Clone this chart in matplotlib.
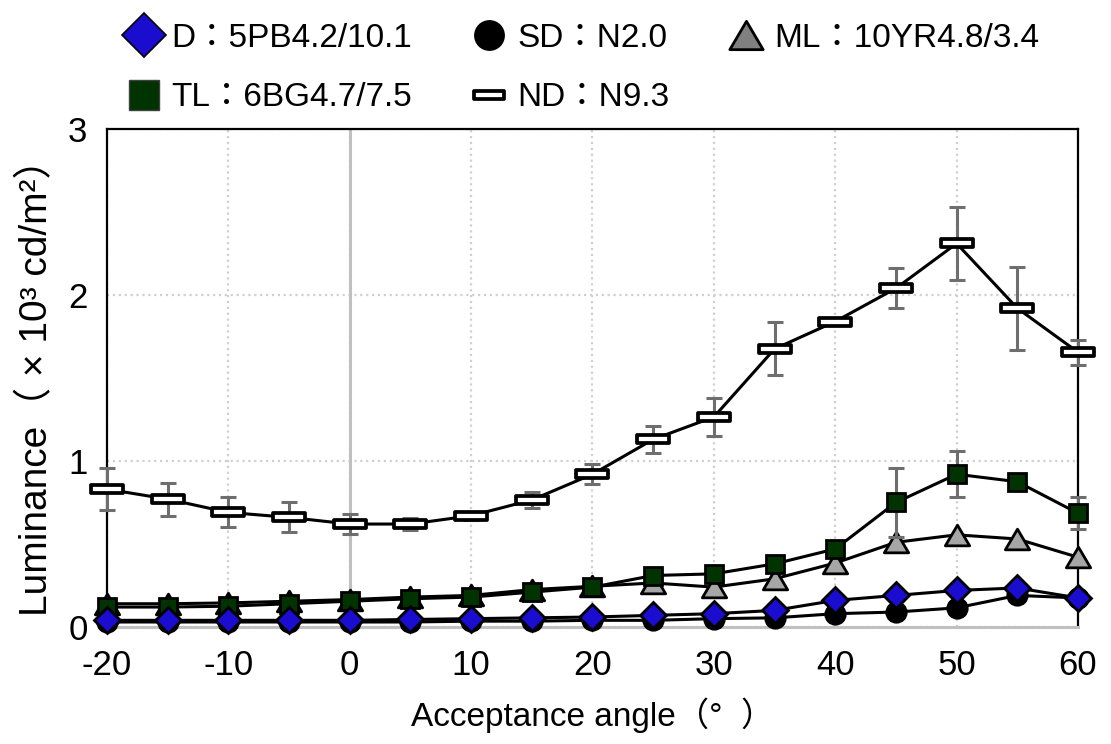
import matplotlib
matplotlib.use("Agg")
import matplotlib.pyplot as plt
from matplotlib.lines import Line2D
from matplotlib.path import Path
import numpy as np

plt.rcParams['font.family'] = ['Liberation Sans', 'Noto Sans CJK JP']
plt.rcParams['axes.unicode_minus'] = False

# acceptance angle (deg)
angles = [-20, -15, -10, -5, 0, 5, 10, 15, 20, 25, 30, 35, 40, 45, 50, 55, 60]

# luminance (x10^3 cd/m2)
lum_D = [0.04, 0.04, 0.04, 0.04, 0.04, 0.045, 0.05, 0.055, 0.06, 0.07, 0.08, 0.10, 0.16, 0.19, 0.22, 0.235, 0.175]
lum_SD = [0.03, 0.03, 0.03, 0.03, 0.03, 0.03, 0.035, 0.035, 0.04, 0.04, 0.05, 0.055, 0.08, 0.09, 0.115, 0.19, 0.175]
lum_ML = [0.14, 0.14, 0.145, 0.155, 0.165, 0.18, 0.19, 0.225, 0.245, 0.265, 0.24, 0.29, 0.385, 0.51, 0.555, 0.53, 0.42]
lum_TL = [0.12, 0.12, 0.125, 0.14, 0.155, 0.17, 0.18, 0.21, 0.24, 0.31, 0.32, 0.38, 0.47, 0.75, 0.92, 0.875, 0.685]
lum_ND = [0.83, 0.77, 0.69, 0.66, 0.62, 0.62, 0.67, 0.765, 0.92, 1.13, 1.265, 1.675, 1.84, 2.04, 2.31, 1.92, 1.655]

# error bars (std)
err_TL = [0.01, 0.01, 0.01, 0.01, 0.01, 0.01, 0.01, 0.01, 0.01, 0.02, 0.02, 0.02, 0.02, 0.21, 0.14, 0.02, 0.095]
err_ND = [0.125, 0.10, 0.09, 0.09, 0.06, 0.035, 0.025, 0.05, 0.06, 0.08, 0.115, 0.16, 0.01, 0.12, 0.22, 0.25, 0.075]

labels = {
    'D': 'D：5PB4.2/10.1',
    'SD': 'SD：N2.0',
    'ML': 'ML：10YR4.8/3.4',
    'TL': 'TL：6BG4.7/7.5',
    'ND': 'ND：N9.3',
}

# flat rectangle marker for ND, wide triangle for ML
rect = Path([(-1, -0.26), (1, -0.26), (1, 0.26), (-1, 0.26), (-1, -0.26)],
            [Path.MOVETO, Path.LINETO, Path.LINETO, Path.LINETO, Path.CLOSEPOLY])
tri = Path([(0, 0.85), (-1, -0.85), (1, -0.85), (0, 0.85)],
           [Path.MOVETO, Path.LINETO, Path.LINETO, Path.CLOSEPOLY])

fig = plt.figure(figsize=(11.11, 7.44), dpi=100)
ax = fig.add_axes([0.0963, 0.1573, 0.874, 0.6694])

lw = 2.2
mew = 2.0
ax.plot(angles, lum_ML, color='black', lw=lw, marker=tri, ms=17.5, mfc='#a6a6a6', mec='black', mew=mew, zorder=3, clip_on=False)
ax.errorbar(angles, lum_TL, yerr=err_TL, fmt='none', ecolor='#6e6e6e', elinewidth=2.2, capsize=5.5, capthick=2.2, zorder=3.5, clip_on=False)
ax.plot(angles, lum_TL, color='black', lw=lw, marker='s', ms=13.5, mfc='#003300', mec='black', mew=mew, zorder=4, clip_on=False)
ax.plot(angles, lum_SD, color='black', lw=lw, marker='o', ms=14, mfc='black', mec='black', mew=mew, zorder=5, clip_on=False)
ax.plot(angles, lum_D, color='black', lw=lw, marker='D', ms=13, mfc='#1a0dd0', mec='black', mew=mew, zorder=6, clip_on=False)
ax.errorbar(angles, lum_ND, yerr=err_ND, fmt='none', ecolor='#6e6e6e', elinewidth=2.2, capsize=5.5, capthick=2.2, zorder=6.5, clip_on=False)
ax.plot(angles, lum_ND, color='black', lw=lw, marker=rect, ms=23, mfc='white', mec='black', mew=2.7, zorder=7, clip_on=False)

ax.set_xlim(-20, 60)
ax.set_ylim(0, 3)
ax.set_xticks(range(-20, 61, 10))
ax.set_yticks([0, 1, 2, 3])
ax.grid(True, linestyle=':', color='#d0d0d0', lw=1.6, zorder=0)
ax.set_axisbelow(True)
ax.axvline(0, color='#c0c0c0', lw=2.2, zorder=1)

for side in ['left', 'top', 'right']:
    ax.spines[side].set_color('black')
    ax.spines[side].set_linewidth(1.6)
ax.spines['bottom'].set_color('#c0c0c0')
ax.spines['bottom'].set_linewidth(2.2)

ax.tick_params(length=0, labelsize=25)
ax.tick_params(axis='y', pad=14)
ax.tick_params(axis='x', pad=16)

ax.set_xlabel('Acceptance angle（°  ）', fontsize=24, labelpad=11)
ax.set_ylabel('Luminance（ × 10³ cd/m²）', fontsize=28, labelpad=9)

# legend proxies (markers only, larger than in the plot)
h_D = Line2D([], [], ls='none', marker='D', ms=22, mfc='#1a0dd0', mec='black', mew=1.2)
h_SD = Line2D([], [], ls='none', marker='o', ms=21, mfc='black', mec='black', mew=1.2)
h_ML = Line2D([], [], ls='none', marker=tri, ms=24, mfc='#808080', mec='black', mew=2.0)
h_TL = Line2D([], [], ls='none', marker='s', ms=22, mfc='#003300', mec='#404040', mew=1.0)
h_ND = Line2D([], [], ls='none', marker=rect, ms=22, mfc='white', mec='black', mew=2.7)

fig.legend([h_D, h_TL, h_SD, h_ND, h_ML],
           [labels['D'], labels['TL'], labels['SD'], labels['ND'], labels['ML']],
           ncol=3, loc='upper left', bbox_to_anchor=(127 / 1111, 1 - 23 / 744),
           frameon=False, fontsize=24, handlelength=1.0, handletextpad=0.34,
           columnspacing=1.8, labelspacing=0.85, borderpad=0, borderaxespad=0)

fig.savefig('out.png', dpi=100)
